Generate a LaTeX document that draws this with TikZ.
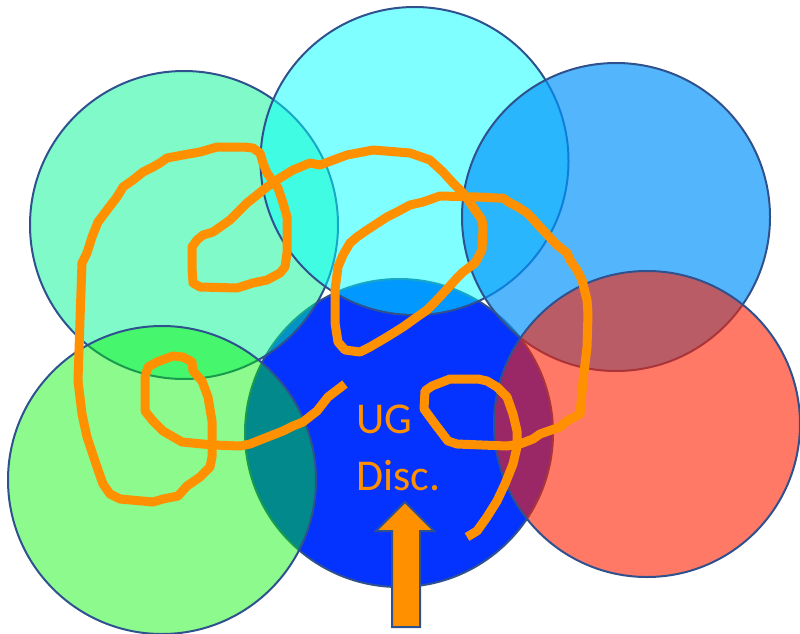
\documentclass[tikz,border=0pt]{standalone}
\usepackage{fontspec}
\setmainfont{Carlito}
\definecolor{outl}{RGB}{47,82,143}
\definecolor{cA}{RGB}{0,245,145}
\definecolor{cB}{RGB}{0,255,255}
\definecolor{cC}{RGB}{2,148,251}
\definecolor{cD}{RGB}{0,244,0}
\definecolor{cE}{RGB}{4,50,255}
\definecolor{cF}{RGB}{255,32,0}
\definecolor{ink}{RGB}{255,145,0}
\tikzset{
  disc/.style={draw=outl, line width=2pt},
  scribble/.style={draw=ink, line width=9pt, line join=round, line cap=butt},
  lbl/.style={text=ink, inner sep=0pt, anchor=base west, font=\fontsize{44}{57}\selectfont},
  uparrow/.style={fill=ink, draw=outl, line width=2pt, line join=miter}
}
\begin{document}
\begin{tikzpicture}[x=1pt,y=-1pt]
\useasboundingbox (0,0) rectangle (800,634);
% circles in stacking order
\path[disc, fill=cE] (399,433) circle (154);
\path[disc, fill=cA, fill opacity=0.5] (184,225) circle (154);
\path[disc, fill=cB, fill opacity=0.5] (414.5,161) circle (154);
\path[disc, fill=cC, fill opacity=0.68] (616,217) circle (154);
\path[disc, fill=cD, fill opacity=0.45] (162,480) circle (154);
\path[disc, fill=cF, fill opacity=0.6] (647,424) circle (153);
% freehand orange line
\draw[scribble] (467,537) -- (477,531) -- (487,517) -- (497,501) -- (505,484) -- (513,464) -- (517,447) -- (517,431) -- (513,414) -- (507,397) -- (497,387) -- (487,381) -- (478,379) -- (450,379) -- (432,386) -- (425,391) -- (424,409) -- (435,424) -- (448,441) -- (457,444) -- (507,446) -- (520,444) -- (533,439) -- (540,434) -- (560,427) -- (567,421) -- (580,414) -- (583,381) -- (587,347) -- (588,314)
 -- (587,300) -- (582,280) -- (577,270) -- (570,260) -- (567,253) -- (557,245) -- (540,227) -- (532,218) -- (527,213) -- (518,207) -- (510,203) -- (503,198) -- (497,198) -- (477,197) -- (440,196) -- (423,202) -- (410,205) -- (397,212)
 -- (387,217) -- (367,230) -- (357,237) -- (350,243) -- (343,255) -- (338,267) -- (335,290) -- (335,323) -- (338,342) -- (345,350) -- (360,352) -- (370,347) -- (387,337) -- (403,327) -- (417,317) -- (427,310) -- (435,302) -- (448,288) -- (457,278) -- (463,272) -- (475,263) -- (482,250) -- (483,228) -- (482,220) -- (473,207) -- (463,193) -- (453,183) -- (443,172) -- (430,160) -- (410,153) -- (373,150) -- (347,155) -- (320,165)
 -- (310,163) -- (293,170) -- (280,178) -- (267,187) -- (247,203) -- (237,213) -- (230,220) -- (213,232) -- (203,235) -- (197,240) -- (192,247) -- (192,267) -- (193,283) -- (200,287) -- (237,288) -- (253,283) -- (267,280) -- (280,273) -- (285,267) -- (287,253) -- (287,217) -- (283,203) -- (278,188) -- (267,173) -- (263,163) -- (260,153) -- (253,148) -- (243,147) -- (217,147) -- (200,152) -- (183,155) -- (167,158) -- (160,163) -- (153,167) -- (143,172) -- (133,180) -- (123,187) -- (117,197) -- (107,210) -- (98,222) -- (92,237) -- (87,253) -- (82,263) -- (80,320)
 -- (78,381) -- (82,414) -- (87,437) -- (97,467) -- (103,484) -- (110,494) -- (120,499) -- (153,502) -- (163,499) -- (178,496) -- (187,486) -- (200,477) -- (210,467) -- (212,457) -- (212,421) -- (208,397) -- (202,381) -- (193,371) -- (192,362) -- (183,357) -- (173,356) -- (157,362) -- (148,367) -- (145,377) -- (145,411) -- (153,421) -- (163,431) -- (182,442) -- (213,445) -- (240,446) -- (250,444) -- (260,440) -- (283,431) -- (293,426) -- (303,422) -- (317,411) -- (328,397) -- (345,384);
% label
\node[lbl] (ug) at (356,433) {UG};
\node[lbl] (disc) at (356,490) {Disc.};
% block arrow
\draw[uparrow] (392,627) -- (392,531) -- (376,531) -- (405,502) -- (434,531) -- (420,531) -- (420,627) -- cycle;
\end{tikzpicture}
\end{document}
